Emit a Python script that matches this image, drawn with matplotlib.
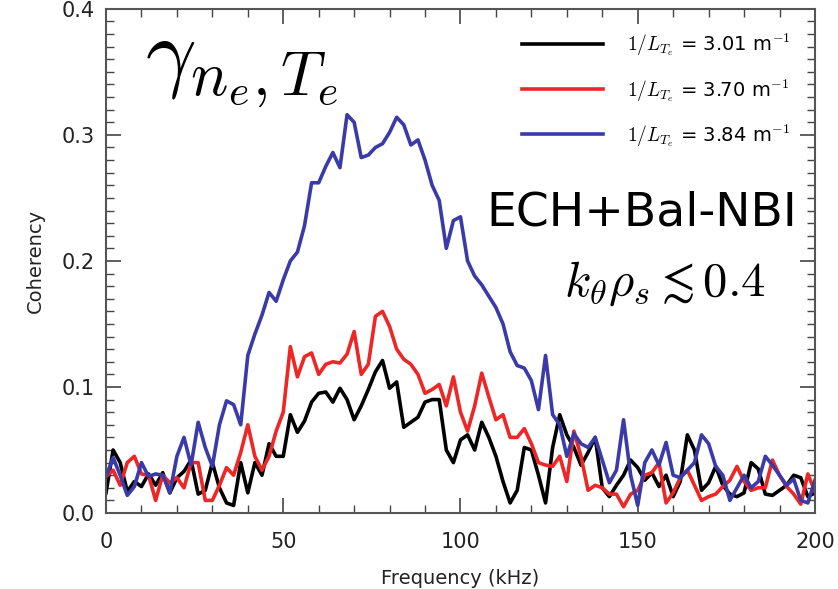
import numpy as np
import matplotlib
matplotlib.use("Agg")
import matplotlib.pyplot as plt
from matplotlib.ticker import MultipleLocator

plt.rcParams['mathtext.fontset'] = 'cm'
plt.rcParams['font.family'] = ['DejaVu Sans']

# frequency grid (kHz), 2 kHz step
freq = np.arange(0, 201, 2)

coh_301 = [0.016, 0.050, 0.040, 0.017, 0.025, 0.021, 0.031, 0.022, 0.032, 0.016,
           0.028, 0.033, 0.042, 0.015, 0.018, 0.040, 0.020, 0.008, 0.006, 0.040,
           0.016, 0.040, 0.030, 0.055, 0.045, 0.045, 0.078, 0.064, 0.073, 0.088,
           0.095, 0.096, 0.088, 0.099, 0.090, 0.074, 0.085, 0.098, 0.112, 0.121,
           0.099, 0.104, 0.068, 0.072, 0.076, 0.088, 0.090, 0.090, 0.050, 0.040,
           0.058, 0.062, 0.050, 0.072, 0.060, 0.045, 0.025, 0.008, 0.018, 0.052,
           0.050, 0.030, 0.008, 0.052, 0.078, 0.062, 0.052, 0.038, 0.048, 0.060,
           0.020, 0.013, 0.022, 0.030, 0.042, 0.036, 0.026, 0.032, 0.021, 0.030,
           0.013, 0.025, 0.062, 0.050, 0.018, 0.024, 0.037, 0.022, 0.015, 0.013,
           0.016, 0.040, 0.035, 0.015, 0.014, 0.018, 0.022, 0.030, 0.028, 0.013,
           0.016]

coh_370 = [0.029, 0.034, 0.022, 0.040, 0.045, 0.031, 0.030, 0.010, 0.030, 0.024,
           0.028, 0.020, 0.040, 0.040, 0.010, 0.010, 0.022, 0.036, 0.030, 0.048,
           0.070, 0.045, 0.034, 0.045, 0.065, 0.080, 0.132, 0.108, 0.124, 0.127,
           0.110, 0.118, 0.120, 0.119, 0.126, 0.144, 0.110, 0.118, 0.156, 0.160,
           0.148, 0.130, 0.122, 0.118, 0.110, 0.095, 0.098, 0.102, 0.085, 0.108,
           0.080, 0.065, 0.085, 0.111, 0.092, 0.074, 0.078, 0.060, 0.060, 0.067,
           0.055, 0.040, 0.038, 0.037, 0.045, 0.025, 0.065, 0.045, 0.018, 0.022,
           0.020, 0.015, 0.015, 0.005, 0.015, 0.018, 0.030, 0.032, 0.040, 0.008,
           0.016, 0.028, 0.034, 0.022, 0.010, 0.013, 0.015, 0.021, 0.026, 0.037,
           0.025, 0.018, 0.020, 0.020, 0.042, 0.030, 0.021, 0.015, 0.007, 0.031,
           0.017]

coh_384 = [0.029, 0.044, 0.030, 0.014, 0.021, 0.040, 0.029, 0.031, 0.030, 0.016,
           0.045, 0.060, 0.038, 0.072, 0.052, 0.037, 0.070, 0.089, 0.086, 0.070,
           0.125, 0.142, 0.157, 0.175, 0.168, 0.185, 0.200, 0.207, 0.228, 0.262,
           0.262, 0.275, 0.286, 0.274, 0.316, 0.310, 0.282, 0.284, 0.290, 0.293,
           0.302, 0.314, 0.308, 0.292, 0.296, 0.280, 0.260, 0.248, 0.210, 0.232,
           0.235, 0.200, 0.188, 0.181, 0.172, 0.163, 0.150, 0.128, 0.117, 0.115,
           0.105, 0.082, 0.125, 0.078, 0.070, 0.045, 0.063, 0.055, 0.052, 0.060,
           0.042, 0.024, 0.034, 0.074, 0.030, 0.006, 0.040, 0.050, 0.038, 0.056,
           0.030, 0.028, 0.034, 0.040, 0.062, 0.055, 0.037, 0.030, 0.010, 0.020,
           0.030, 0.020, 0.025, 0.045, 0.038, 0.030, 0.022, 0.027, 0.010, 0.008,
           0.026]

series = [(coh_301, 'black', r'$1/L_{T_e}$ = 3.01 m$^{-1}$'),
          (coh_370, '#ee2626', r'$1/L_{T_e}$ = 3.70 m$^{-1}$'),
          (coh_384, '#3a3aa8', r'$1/L_{T_e}$ = 3.84 m$^{-1}$')]

fig = plt.figure(figsize=(8.38, 5.89), dpi=100)
ax = fig.add_axes([0.1265, 0.129, 0.846, 0.856])

for vals, col, lab in series:
    ax.plot(freq, vals, color=col, lw=2.6, label=lab)

ax.set_xlim(0, 200)
ax.set_ylim(0, 0.4)
ax.xaxis.set_major_locator(MultipleLocator(50))
ax.xaxis.set_minor_locator(MultipleLocator(10))
ax.yaxis.set_major_locator(MultipleLocator(0.1))
ax.yaxis.set_minor_locator(MultipleLocator(0.01))
ax.set_yticklabels(['%.1f' % v for v in ax.get_yticks()])
ax.tick_params(which='both', direction='in', top=True, right=True,
               color='#444444', labelsize=15, labelcolor='#222222')
ax.tick_params(which='major', length=11, width=1.2, pad=8)
ax.tick_params(axis='x', which='major', pad=14)
ax.tick_params(which='minor', length=5.5, width=1.0)
for sp in ax.spines.values():
    sp.set_color('#555555')
    sp.set_linewidth(1.5)

ax.set_xlabel('Frequency (kHz)', fontsize=14, color='#222222', labelpad=12)
ax.set_ylabel('Coherency', fontsize=14, color='#222222', labelpad=12)

leg = ax.legend(loc='upper right', bbox_to_anchor=(0.99, 0.99), frameon=False,
                fontsize=14, handlelength=4.2, handletextpad=1.2, labelspacing=0.95)

ax.text(0.055, 0.885, r'$\gamma_{n_e,T_e}$', transform=ax.transAxes,
        fontsize=64, ha='left', va='center')
ax.text(0.975, 0.595, 'ECH+Bal-NBI', transform=ax.transAxes,
        fontsize=34, ha='right', va='center')
ax.text(0.93, 0.455, r'$k_\theta\rho_s \lesssim 0.4$', transform=ax.transAxes,
        fontsize=35, ha='right', va='center')

fig.savefig('out.png', dpi=100)
